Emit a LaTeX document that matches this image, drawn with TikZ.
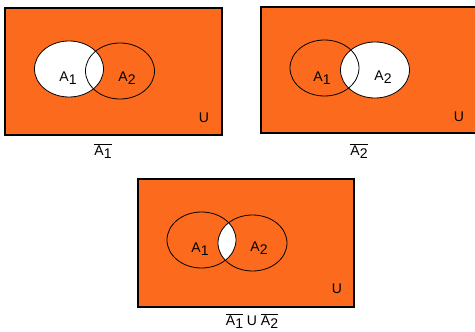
\documentclass[tikz,border=0pt]{standalone}
\usepackage{fontspec}
\setmainfont{Liberation Sans}
\definecolor{vorange}{RGB}{252,106,30}
\newcommand{\Asub}[1]{A\raisebox{-3.5pt}{#1}}
\newcommand{\ovA}[1]{$\overline{\hbox{\Asub{#1}}}$}
\begin{document}
\begin{tikzpicture}[x=1pt,y=-1pt,
  universe/.style={fill=vorange,draw=black,line width=1.4pt},
  setline/.style={draw=black,line width=0.8pt},
  lbl/.style={font=\fontsize{14}{16}\selectfont,inner sep=0pt,anchor=center}]
\useasboundingbox (0,0) rectangle (475,332);
% ---- panel 1: complement of A1
\path[universe] (5,8) rectangle (222,135);
\fill[white] (69,69) ellipse [x radius=34.5, y radius=28];
\path[setline] (69,69) ellipse [x radius=34.5, y radius=28];
\path[setline] (120,71) ellipse [x radius=34.5, y radius=28];
\node[lbl] (p1a1) at (68,78) {\Asub{1}};
\node[lbl] (p1a2) at (127,78) {\Asub{2}};
\node[lbl] (p1u) at (204,118) {U};
\node[lbl] (p1c) at (103,151) {\ovA{1}};
% ---- panel 2: complement of A2
\path[universe] (261,7) rectangle (480,133);
\fill[white] (375,70) ellipse [x radius=34.5, y radius=28];
\path[setline] (324.5,68) ellipse [x radius=34.5, y radius=28];
\path[setline] (375,70) ellipse [x radius=34.5, y radius=28];
\node[lbl] (p2a1) at (322,78) {\Asub{1}};
\node[lbl] (p2a2) at (383,77) {\Asub{2}};
\node[lbl] (p2u) at (459,117) {U};
\node[lbl] (p2c) at (359,151) {\ovA{2}};
% ---- panel 3: union of complements
\path[universe] (138,179) rectangle (354,307);
\begin{scope}
  \clip (201.5,240) ellipse [x radius=34.5, y radius=28];
  \fill[white] (252.5,243) ellipse [x radius=34.5, y radius=28];
\end{scope}
\path[setline] (201.5,240) ellipse [x radius=34.5, y radius=28];
\path[setline] (252.5,243) ellipse [x radius=34.5, y radius=28];
\node[lbl] (p3a1) at (200,249) {\Asub{1}};
\node[lbl] (p3a2) at (259,248) {\Asub{2}};
\node[lbl] (p3u) at (337,289) {U};
\node[lbl] (p3c) at (252,321) {\ovA{1}\ U \ovA{2}};
\end{tikzpicture}
\end{document}
